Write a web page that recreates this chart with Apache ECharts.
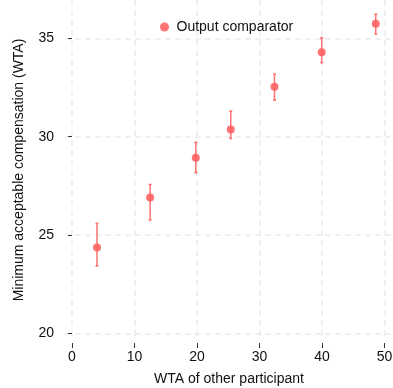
<!DOCTYPE html>
<html>
<head>
<meta charset="utf-8">
<script src="https://cdn.jsdelivr.net/npm/echarts@6/dist/echarts.min.js"></script>
<style>
  html, body { margin: 0; padding: 0; background: #fff; }
  #chart { width: 393px; height: 388px; }
</style>
</head>
<body>
<div id="chart"></div>
<script>
// WTA of the other participant (binned) and mean own WTA with 95% CI
var wtaOther = [4.0, 12.5, 19.8, 25.4, 32.4, 39.95, 48.6];
var meanWTA  = [24.37, 26.91, 28.93, 30.37, 32.54, 34.29, 35.74];
var ciLow    = [23.42, 25.76, 28.17, 29.91, 31.86, 33.76, 35.22];
var ciHigh   = [25.59, 27.57, 29.71, 31.30, 33.18, 35.03, 36.23];

var xTicks = [0, 10, 20, 30, 40, 50];
var yTicks = [20, 25, 30, 35];

var seriesName = 'Output comparator';
var xTitle = 'WTA of other participant';
var yTitle = 'Minimum acceptable compensation (WTA)';

var red = 'rgba(255, 90, 90, 0.85)';
var font = '"Liberation Sans", Arial, Helvetica, sans-serif';

var points = wtaOther.map(function (x, i) { return [x, meanWTA[i]]; });
var bars = wtaOther.map(function (x, i) { return [x, ciLow[i], ciHigh[i]]; });

var gridLine = { show: true, lineStyle: { color: '#ebebeb', width: 1.5, type: [6, 4] } };

var chart = echarts.init(document.getElementById('chart'), null, { renderer: 'canvas' });
chart.setOption({
  animation: false,
  backgroundColor: '#fff',
  textStyle: { fontFamily: font },
  grid: { left: 65, right: 0, top: 0, bottom: 48, containLabel: false, outerBoundsMode: 'none' },
  legend: {
    data: [{ name: seriesName, icon: 'circle' }],
    left: 155, top: 15,
    itemWidth: 14, itemHeight: 9,
    textStyle: { fontSize: 14, color: '#111', fontFamily: font }
  },
  xAxis: {
    type: 'value',
    min: -1.12, max: 51.36,
    offset: 3,
    name: xTitle, nameLocation: 'middle', nameGap: 29,
    nameTextStyle: { fontSize: 14, color: '#111', fontFamily: font },
    axisLine: { show: false },
    axisTick: { show: true, length: 5, customValues: xTicks, lineStyle: { color: '#333', width: 1 } },
    axisLabel: { customValues: xTicks, fontSize: 14, color: '#111', margin: 7, fontFamily: font },
    splitLine: gridLine
  },
  yAxis: {
    type: 'value',
    min: 19.66, max: 36.95,
    offset: 4,
    name: yTitle, nameLocation: 'middle', nameGap: 35,
    nameTextStyle: { fontSize: 14, color: '#111', fontFamily: font },
    axisLine: { show: false },
    axisTick: { show: true, length: 4, customValues: yTicks, lineStyle: { color: '#333', width: 1 } },
    axisLabel: { customValues: yTicks, fontSize: 14, color: '#111', margin: 7, fontFamily: font },
    splitLine: gridLine
  },
  series: [
    {
      type: 'custom',
      name: seriesName,
      data: bars,
      z: 2,
      renderItem: function (params, api) {
        var x = api.value(0);
        var lo = api.coord([x, api.value(1)]);
        var hi = api.coord([x, api.value(2)]);
        var style = { stroke: red, lineWidth: 1.5 };
        return {
          type: 'group',
          children: [
            { type: 'line', shape: { x1: lo[0], y1: lo[1], x2: hi[0], y2: hi[1] }, style: style },
            { type: 'line', shape: { x1: lo[0] - 1.5, y1: lo[1], x2: lo[0] + 1.5, y2: lo[1] }, style: style },
            { type: 'line', shape: { x1: hi[0] - 1.5, y1: hi[1], x2: hi[0] + 1.5, y2: hi[1] }, style: style }
          ]
        };
      },
      itemStyle: { color: red }
    },
    {
      type: 'scatter',
      name: seriesName,
      data: points,
      symbol: 'circle',
      symbolSize: 8,
      z: 3,
      itemStyle: { color: red, opacity: 1 }
    }
  ]
});
</script>
</body>
</html>
